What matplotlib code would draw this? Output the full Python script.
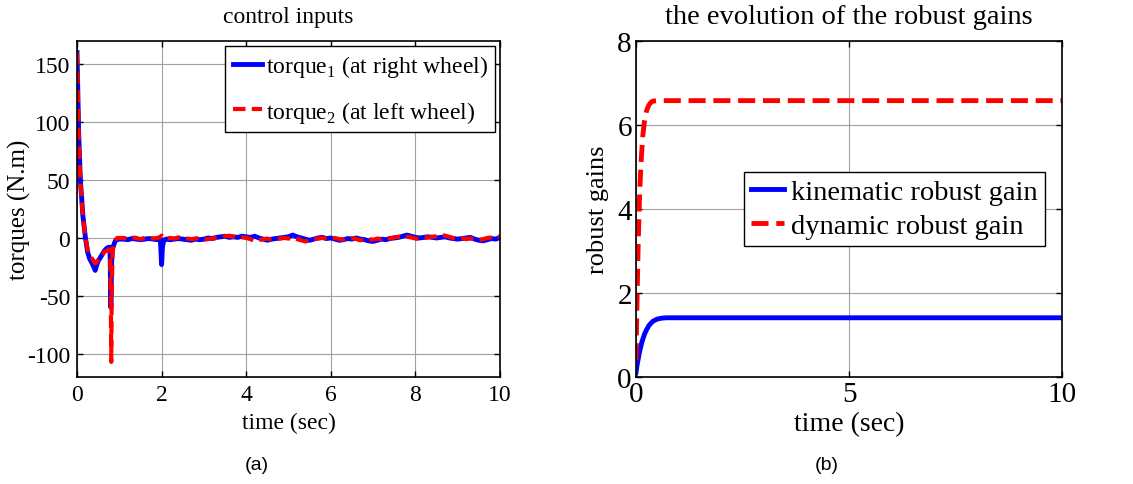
import matplotlib
matplotlib.use("Agg")
import matplotlib.pyplot as plt
import numpy as np

# === torque data ===
t_start = [0.0, 0.02, 0.04, 0.08, 0.14, 0.2, 0.25, 0.3, 0.36, 0.43, 0.46, 0.5,
           0.55, 0.6, 0.65, 0.7, 0.75, 0.78, 0.8, 0.81, 0.82, 0.84, 0.87, 0.9, 0.95, 1.0]
tq1_start = [160, 125, 90, 50, 19, 0, -12, -18, -22, -28, -24, -20,
             -17, -14, -11, -9, -8, -8, -60, -40, -20, -9, -6, -3, -1, -1]
tq2_start = [160, 122, 88, 48, 18, 0, -10, -15, -18, -22, -21, -19,
             -16, -14, -12, -11, -10, -10, -60, -107, -50, -12, -5, -2, 0, 0]

t_steady = [1.1, 1.2, 1.3, 1.4, 1.5, 1.6, 1.7, 1.8, 1.9, 1.97, 2.0, 2.02, 2.05, 2.1, 2.2, 2.3, 2.4,
            2.5, 2.6, 2.7, 2.8, 2.9, 3.0, 3.1, 3.2, 3.3, 3.4, 3.5, 3.6, 3.7, 3.8, 3.9,
            4.0, 4.1, 4.2, 4.3, 4.4, 4.5, 4.6, 4.7, 4.8, 4.9, 5.0, 5.1, 5.2, 5.3,
            5.4, 5.5, 5.6, 5.7, 5.8, 5.9, 6.0, 6.1, 6.2, 6.3, 6.4, 6.5, 6.6, 6.7,
            6.8, 6.9, 7.0, 7.1, 7.2, 7.3, 7.4, 7.5, 7.6, 7.7, 7.8, 7.9, 8.0, 8.1,
            8.2, 8.3, 8.4, 8.5, 8.6, 8.7, 8.8, 8.9, 9.0, 9.1, 9.2, 9.3, 9.4, 9.5,
            9.6, 9.7, 9.8, 9.9, 10.0]
tq1_steady = [-1, -1.5, -0.5, -1, -1.5, -1, -0.5, -1, -1.5, -1, -23, -8, -2, -1, -1.5, -1, -0.5,
              -1, -1.5, -2, -1, -1.5, -1, 0, -0.5, 0.5, 1, 1.5, 0.5, 1, 0.5, 1.5,
              1, 0.5, 1.5, 0, -1, -2, -1, -0.5, 0, 0.5, 1, 2.5, 1, 0,
              -1, -2, -1, 0, 0.5, -0.5, 0, -1, -2, -1.5, -0.5, -1, 0, -1,
              -1.5, -2.5, -3, -2, -1, -1.5, -0.5, 0, 0.5, 1.5, 2.5, 1.5, 0.5, 0,
              0.5, 1, 0.5, 0, 0.5, 1, 0, -0.5, -1, -0.5, 0, 0.5, -1, -2,
              -2.5, -1.5, -0.5, -1, 0.5]
tq2_steady = [0, -0.5, 0.5, 0, -1, 0, 0.5, -0.5, 0, 1, 2, 1, 0, -0.5, 0, -0.5, 0.5,
              0, -0.5, -1, -0.5, 0, -1.5, -1, -0.5, 0, 0.5, 1.5, 2, 1, 0, 0.5,
              0, -1, -2.5, -2, -1, -0.5, -1.5, -1, -0.5, 0, -0.5, 0, -1, -2,
              -3, -2, -1, -0.5, 0, -0.5, -1, 0, -1, -1.5, -0.5, 0, -1, -2,
              -1.5, -1, -1.5, -0.5, -1, 0, -0.5, 0.5, 1, 0.5, 1, 0.5, -0.5, -1,
              0, 0.5, 1, 1.5, 3, 2, 1, 0, -0.5, 0, -1, -0.5, -1, -1.5,
              -1, 0, 0.5, 1.5, 1]

# === robust gain data ===
t_gain = [0.0, 0.02, 0.05, 0.08, 0.1, 0.13, 0.16, 0.2, 0.25, 0.3, 0.35, 0.4, 0.5,
          0.6, 0.7, 0.8, 0.9, 1.0, 2.0, 5.0, 10.0]
kin_gain = [0.1, 0.25, 0.42, 0.58, 0.67, 0.8, 0.9, 1.02, 1.13, 1.22, 1.28, 1.33, 1.38,
            1.4, 1.41, 1.41, 1.41, 1.41, 1.41, 1.41, 1.41]
dyn_gain = [0.4, 1.6, 3.1, 4.2, 4.7, 5.3, 5.75, 6.1, 6.35, 6.47, 6.54, 6.57, 6.58,
            6.58, 6.58, 6.58, 6.58, 6.58, 6.58, 6.58, 6.58]

time1 = np.array(t_start + t_steady)
torque1 = np.array(tq1_start + tq1_steady)
torque2 = np.array(tq2_start + tq2_steady)

serif = "Liberation Serif"
plt.rcParams["font.family"] = serif
plt.rcParams["mathtext.fontset"] = "custom"
plt.rcParams["mathtext.rm"] = serif
plt.rcParams["axes.unicode_minus"] = False

fig = plt.figure(figsize=(11.33, 4.85), dpi=100)
ax1 = fig.add_axes([77 / 1133, 1 - 378 / 485, 423 / 1133, 336 / 485])
ax2 = fig.add_axes([636 / 1133, 1 - 378 / 485, 426 / 1133, 336 / 485])

for ax in (ax1, ax2):
    ax.grid(True, color="#a0a0a0", linewidth=0.8)
    ax.set_axisbelow(True)
    ax.tick_params(direction="in", top=True, right=True, length=4, width=1)
    for s in ax.spines.values():
        s.set_linewidth(1.2)

# --- (a) control inputs ---
ax1.plot(time1, torque1, color="blue", linewidth=3.5,
         label=r"torque$_1$ (at right wheel)")
ax1.plot(time1, torque2, color="red", linewidth=3, linestyle=(0, (3, 1.5)),
         label=r"torque$_2$ (at left wheel)")
ax1.set_xlim(0, 10)
ax1.set_ylim(-120, 170)
ax1.set_xticks([0, 2, 4, 6, 8, 10])
ax1.set_yticks([-100, -50, 0, 50, 100, 150])
ax1.tick_params(labelsize=17, pad=5)
ax1.set_title("control inputs", fontsize=17, pad=14)
ax1.set_xlabel("time (sec)", fontsize=17, labelpad=5)
ax1.set_ylabel("torques (N.m)", fontsize=18, labelpad=-3)
leg1 = ax1.legend(loc="upper right", fontsize=17, handlelength=1.25, handletextpad=0.17,
                  borderaxespad=0.2, fancybox=False, edgecolor="black", framealpha=1,
                  labelspacing=0.84, borderpad=0.3)
leg1.get_frame().set_linewidth(1)

# --- (b) robust gains ---
ax2.plot(t_gain, kin_gain, color="blue", linewidth=3.5, label="kinematic robust gain")
ax2.plot(t_gain, dyn_gain, color="red", linewidth=3.5, linestyle=(0, (3.5, 1.6)),
         label="dynamic robust gain")
ax2.set_xlim(0, 10)
ax2.set_ylim(0, 8)
ax2.set_xticks([0, 5, 10])
ax2.set_yticks([0, 2, 4, 6, 8])
ax2.tick_params(labelsize=21, pad=3)
ax2.set_title("the evolution of the robust gains", fontsize=20.5, pad=13)
ax2.set_xlabel("time (sec)", fontsize=20, labelpad=3)
ax2.set_ylabel("robust gains", fontsize=19, labelpad=6)
leg2 = ax2.legend(loc="center right", bbox_to_anchor=(0.96, 0.5), fontsize=20.5,
                  handlelength=1.15, handletextpad=0.25, fancybox=False,
                  borderaxespad=0, edgecolor="black", framealpha=1,
                  labelspacing=0.28, borderpad=0.25)
leg2.get_frame().set_linewidth(1)

fig.text(257 / 1133, 1 - 466 / 485, "(a)", fontsize=14, family="Liberation Sans",
         ha="center", va="center")
fig.text(827 / 1133, 1 - 466 / 485, "(b)", fontsize=14, family="Liberation Sans",
         ha="center", va="center")

fig.savefig("out.png", dpi=100)
